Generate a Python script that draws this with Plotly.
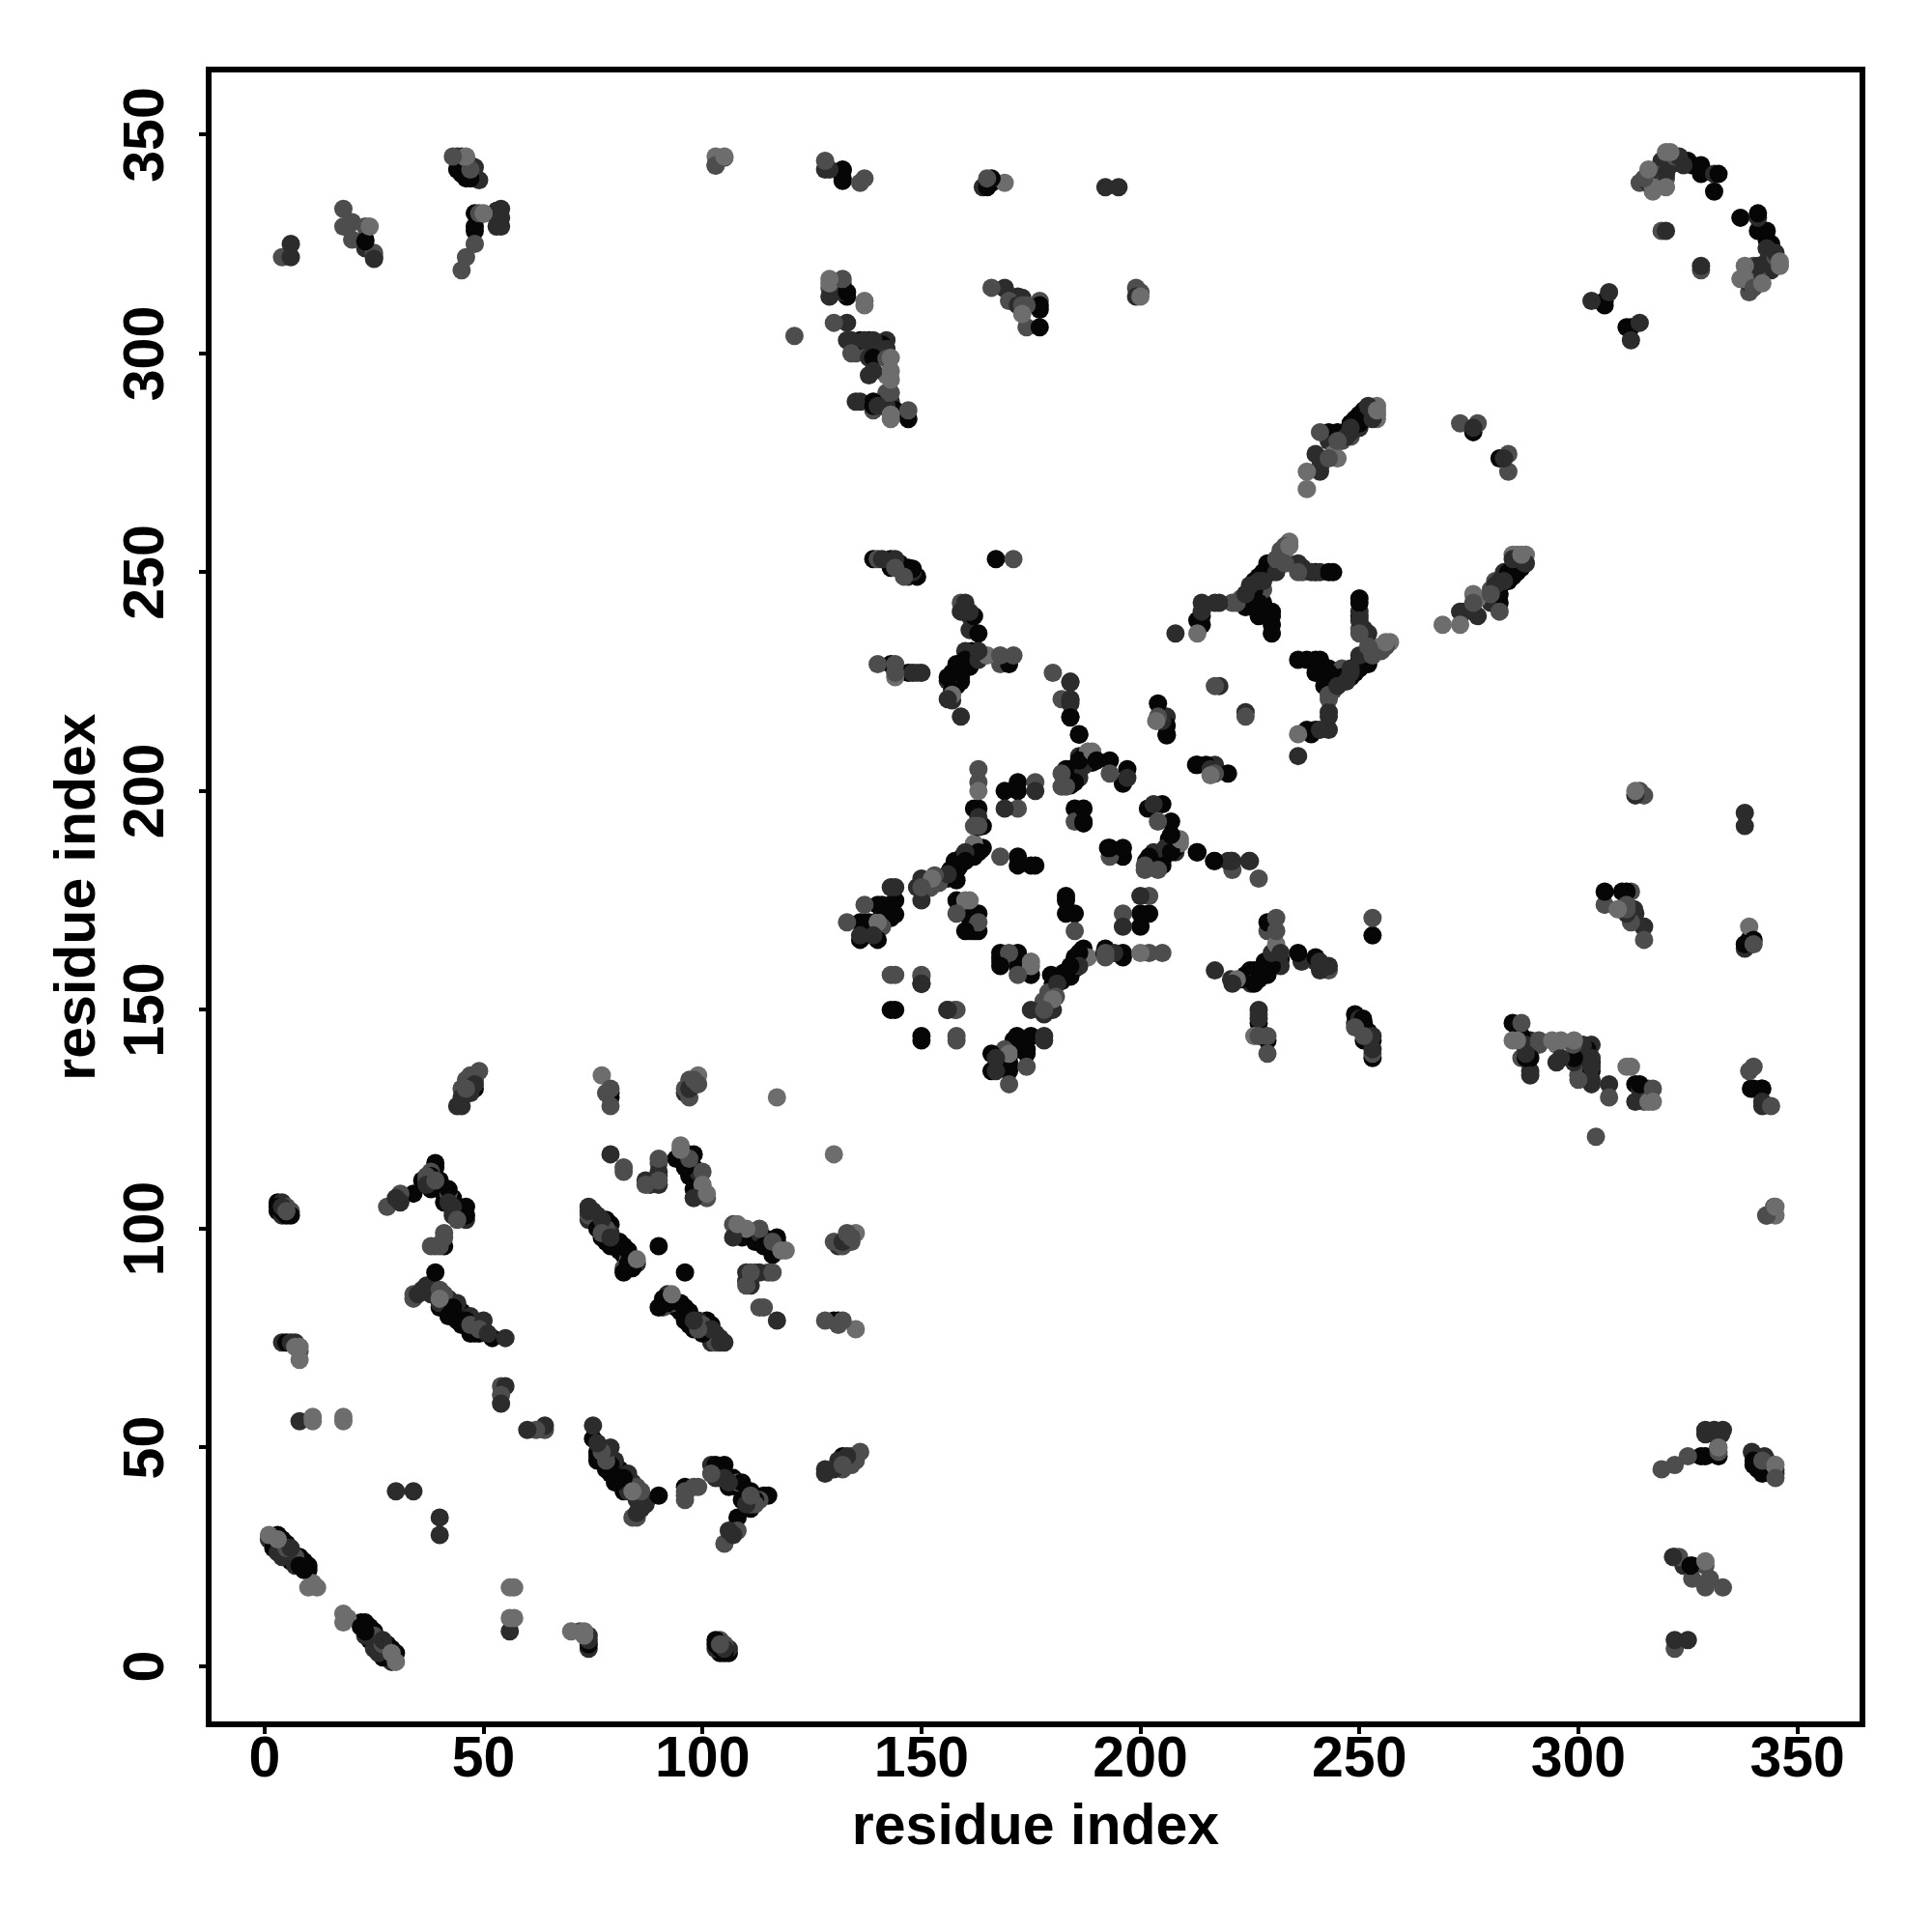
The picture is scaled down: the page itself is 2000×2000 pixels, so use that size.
import plotly.graph_objects as go

tick_values = [0, 50, 100, 150, 200, 250, 300, 350]
axis_label = "residue index"

contacts_black = [
 (3,30),(3,28),(5,28),(5,26),(6,24),(8,25),(8,23),(9,24),(9,22),(10,22),(10,23),(4,27),(4,29),(2,27),
 (3,106),(3,104),(39,114),(34,108),(38,109),(39,110),(40,109),(40,111),(42,109),(43,107),(46,103),(41,106),(41,96),
 (39,90),(38,86),(40,82),(42,80),(44,79),(46,78),(49,76),(52,75),(41,84),(43,80),(45,78),(47,76),
 (48,132),(79,130),(94,116),(96,116),(97,117),(96,114),(97,112),(98,109),
 (78,102),(79,101),(78,97),(80,96),(82,96),(83,95),(83,92),(84,93),(84,91),(90,96),
 (90,82),(94,82),(95,81),(97,81),(102,78),(96,79),(98,77),(100,76),
 (109,99),(114,98),(115,96),(117,98),(131,79),
 (103,46),(105,46),(107,43),(108,41),(110,40),(112,38),(115,39),(111,36),(108,34),(96,41),(90,39),
 (79,46),(81,45),(82,43),(133,47),(103,6),(104,4),(106,3),(105,3),(103,5),(74,5),
 (23,326),(44,344),(45,341),(46,340),(47,340),(48,328),(48,329),(48,332),(44,342),
 (132,342),(132,340),(166,340),(166,339),(133,314),(139,299),(139,289),(144,287),(147,285),(141,288),(177,310),(177,306),
 (326,343),(328,343),(328,341),(332,341),(331,337),(337,331),(341,332),(342,328),(343,328),(344,325),(306,311),(312,306),
 (243,282),(249,283),(250,284),(252,286),(253,287),(282,276),(229,252),(227,249),(226,248),(226,246),(230,250),(227,243),
 (240,250),(243,250),(213,239),(228,243),(227,241),(230,241),(230,238),(230,236),(250,244),(250,240),
 (236,230),(238,230),(240,230),(240,227),(242,224),(246,226),(250,228),(252,230),(240,214),
 (213,206),(220,204),(282,245),(282,247),(284,248),(285,249),(286,250),(287,251),
 (157,227),(159,225),(160,230),(158,224),(157,223),(156,226),(162,240),(163,236),(170,229),(167,253),(145,252),(147,250),(149,249),
 (184,217),(186,213),(183,205),(183.6,202),(184,205),(186,207),(190,207),(193,207),(197,205),(185,202),
 (204,220),(206,213),(206,215),(238,214),(212.7,206),(163,196),(164,192),(169,200),(172,202),(172,200),
 (185,196),(187,196),(187,193),(192.6,187),(196,187),(196,185),(201.7,196),(205,197),(207,193),(206.5,189),(208,187),(201.3,184),(205,183),(203.5,183),(207,186),
 (212.9,186),(216.8,184),(155,180),(156.6,182),(157.6,180),(158.7,183),(159.4,185),(163,186),(164,187),
 (172,185),(172,183),(175,183),(176,183),(136,170),(136,166),(140,174),(143,174),(143,171),(138,170),(140,166),
 (143,150),(150,144),(158,175),(160,172),(163,172),(162,168),(163,168),(183,176),(183,172),(185,172),(202,172),(200,169),
 (168,163),(172,163),(172,160),(175,158),(168,160),(186.6,163.6),(185,162),(184,160),(182.4,158.4),(184,157.6),(179.6,158),(180,156),
 (191.8,163),(196,163),(196,162),(171.8,144),(175,144),(174,141),(172,141),(167,137),(170,137),(166,136),
 (232,161.5),(228.4,161),(226,159),(224,157),(229,158),(227,159),(227,147),(229,143),(250.8,148),(251,147),(251,143),(253,143),(253,139),(253,167),
 (285,147),(287,143),(288,139),(302,141),(303,138),(303,136),(313,133),(306,177),(311,177),(340,166),(338,165),(339.4,132),(341.8,132),
 (328,48),(329,48),(332,48),(341.5,46),(343,47),(325.6,23),
]

contacts_dark = [
 (2,29),(2,28),(4,25),(6,27),(7,23),(1,29),(3,26),(4,105),(6,103),(3,105),(4,103),(4,74),(6,74),(7,74),(8,56),(30,40),(34,40),
 (30,107),(31,106),(37,110),(46,102),(42,106),(43,104),(35,85),(36,86),(37,87),(38,85),(43,82),(45,81),(47,80),(48,77),(49,78),(50,79),(48,76),(51,76),(55,75),
 (55,64),(54,60),(48,133),(44,128),(45,128),(45,130),(79,117),(87,111),(89,111),(99,113),(98,107),(96,131),
 (74,104),(74,102),(76,103),(77,102),(79,98),(81,97),(82,94),(85,92),
 (92,84),(98,79),(99,79),(101,76),(104,75),(104,74),(105,74),(103,43),(105,43),(106,31),(107,30),
 (75,55),(76,48),(80,47),(83,44),(84,42),(83,40),(87,38),(86,36),(87,37),(128,45),(128,44),(131,47),(107,98),(116,94),(110,90),(110,88),(113,90),(117,79),(132,97),(133,97),
 (106,4),(74,7),(74,6),(56,8),(6,322),(6,325),(25,322),(45,345),(47,343),(54,333),(54,331),(54,329),
 (129,342),(128,342),(164,338),(165,338),(192,338),(129,313),(132,314),(133,307),(134,303),(133,303),(137,303),(142,303),(142,301),(139,301),(139,303),(139,296),(136,289),(140,288),(143,289),(169,315),(172,313),(172,311),(199,313),
 (320,341),(321,343),(316,339),(318,342),(319,343),(320,344),(322,344),(323,345),(324,343),(331,341),(341,331),(343,326),(344,322),(345,320),(344,319),(342,318),(341,316),(339,316),(320,328),(307,314),(314,307),(312,303),
 (245,281),(247,281),(248,282),(251,285),(253,285),(250,283),(241,276),(241,273),(276,282),(283,276),(230,252),(228,250),(225,247),(224,245),(228,248),(231,250),(224,244),(236,252),(239,250),
 (214,243),(214,241),(218,243),(208,236),(250,241),(251,237),(242,226),(245,225),(248,227),(254,232),(243,217),(243,214),(236,208),(218,224),(216,205),(217,206),(274,241),(277,240),(280,243),(288,252),(283,248),
 (148,227),(150,227),(158,228),(156,221),(159,217),(160,232),(163,232),(160,243),(161,240),(163,230),(139,253),(141,253),(144,253),(148,250),
 (184,225),(184,221),(184,220),(186,208),(197,203),(206,217),(176,200),(169,196),(205.7,187),(203,186),(220.8,184),(224.8,184),(160,184),(150,180),(149,178),(150,175),
 (143,178),(139,167),(136,167),(150,156),(155.9,150),(160,168),(196,169),(168,161),(186,160),(181,156),(180,150),(175,150),(194,163),(178,144),(167,139),(167,136),
 (217,159),(220.7,157),(225.2,156),(236.8,161),(240.9,161),(241,159),(227,150),(249,149),(249,147),(288,142),(289,135),(295,138),(299,138),(303,134),(307,133),(313,129),(312.7,173),(314.8,169),(338,164),(342,128),
 (313,199),(338,195),(338,192),(329,53),(331,53),(332.6,53),(339.6,49),(340,48),(342.5,48),(345,44),(321.6,25),(324,23),(322,6),(325,6),
]

contacts_mid = [
 (5,27),(7,25),(5,104),(6,104),(5,74),(28,105),(31,108),(37,111),(43,105),(43,103),(44,102),(39,96),(41,98),
 (34,84),(40,85),(54,64),(54,62),(47,135),(46,131),(46,132),(47,133),(48,134),(78,131),(79,132),(79,128),(82,114),(90,111),(90,113),(90,115),(90,116),
 (100,113),(99,108),(77,99),(93,83),(91,82),(100,78),(103,74),(107,101),(113,100),(116,97),(110,87),(115,90),(112,90),(113,82),(128,79),(131,78),(130,97),(134,98),(133,99),
 (97,134),(96,132),(97,130),(106,43),(108,42),(111,39),(113,38),(112,37),(108,31),(105,28),(96,40),(96,38),(99,41),
 (77,49),(78,47),(85,41),(86,40),(85,34),(84,34),(132,46),(132,45),(134,46),(135,48),(136,49),(104,6),(105,5),(72,8),
 (4,322),(20,330),(20,326),(25,323),(43,345),(48,340),(47,342),(45,319),(48,325),(49,332),
 (128,344),(137,340),(165,340),(195,338),(103,343),(132,317),(130,307),(121,304),(135,300),(143,291),(139,287),(147,287),(166,315),(170,312),(174,311),(177,312),(174,306),
 (322,345),(319,341),(318,339),(314,339),(320,340),(340,315),(343,319),(344,321),(328,319),(303,312),
 (241,282),(245,280),(246,280),(248,281),(243,276),(273,284),(277,284),(284,277),(284,273),(232,255),(231,253),(233,252),(233,256),(228,246),(236,250),(222,243),(250,237),
 (244,223),(243,221),(217,224),(217,204),(282,241),(280,245),(287,253),(286,252),
 (140,229),(149,227),(168,231),(171,231),(171,253),(146,249),(182,221),(180,227),(182,204),(183,201),(163,205),(163,202),(163,192),(176,202),(172,196),(185,193),(193,185),(204,193),(203,197),(201,182),(204,182),(221,182),
 (150,158),(143,158),(157.6,150),(158,144),(133,170),(151.3,178),(154,179),(168,185),(158,172),(161,168),(163,170),(185,168),(196,172),(200,176),(202,176),(200,172),(172,158),(192,162),(202,163),(205,163),
 (180.7,153),(177.9,152),(178,150),(169,141),(174,137),(170,133),
 (231,171),(229,168),(227,148),(229,144),(227,144),(229,140),(251,144),(253,140),(287,147),(287,139),(291,142),(298.8,142),(300,134),(307,130),(304,121),(316,132),(315,129),(312,177),(311,173),(312,170),(315,166),(340,165),(339,136),(344,128),
 (314,200),(315,199),(342.9,103),(344.7,105),(331.9,50),(325,48),(322,46),(319,45),(345,43),(323,25),(329,23),(326,20),(330,20),(329,18),(333,18),(322,4),(243,159),
]

contacts_light = [
 (1,30),(3,29),(10,18),(12,18),(11,19),(7,73),(8,72),(8,70),(11,56),(11,57),(18,56),(18,57),(40,84),(49,77),(49,136),
 (77,135),(95,119),(100,110),(101,108),(85,93),(110,100),(118,95),(132,79),(135,77),(117,130),(135,99),(99,135),(70,8),(73,8),(56,18),(57,18),(56,11),(57,11),
 (18,333),(18,329),(24,329),(46,345),(46,322),(50,332),(169,339),(103,345),(105,345),(129,317),(129,315),(137,312),(143,299),(143,296),(143,294),(143,286),(173,309),(199,315),(200,313),
 (321,346),(316,341),(317,337),(320,338),(346,320),(338,317),(342,316),
 (254,288),(254,286),(254,287),(245,276),(238,273),(238,269),(234,257),(236,213),(213,236),(255,233),(256,234),(253,233),
 (269,238),(273,238),(277,244),(288,254),(285,254),(144,229),(144,226),(188,209),(203.6,216),(209,189),(227,180),(143,158),(137,174),(152.4,180),(162,188),(140,170),(160,175),(175,161),(188,162),(179.6,152),(200,163),(222,157),
 (231,165),(285,143),(295,142),(311,137),(316,129),(306,174),(253,171),(339,169),(345,103),(344.7,46),
]

GRAY_BLACK, GRAY_DARK, GRAY_MID, GRAY_LIGHT = "#060606", "#2c2c2c", "#4d4d4d", "#6d6d6d"
stack_bias = {GRAY_BLACK: 0, GRAY_DARK: 6, GRAY_MID: 10, GRAY_LIGHT: 14}

seen = {}
for lst, col in [(contacts_black, GRAY_BLACK), (contacts_dark, GRAY_DARK),
                 (contacts_mid, GRAY_MID), (contacts_light, GRAY_LIGHT)]:
    for a, b in lst:
        key = (min(a, b), max(a, b))
        seen.setdefault(key, col)

# both triangles of the symmetric map; paler points tend to stack above darker ones
items = sorted(seen.items(),
               key=lambda kv: (int(kv[0][0] * 37 + kv[0][1] * 11)) % 29 + stack_bias[kv[1]])
xs = [k[0] for k, _ in items] + [k[1] for k, _ in items]
ys = [k[1] for k, _ in items] + [k[0] for k, _ in items]
cs = [c for _, c in items] * 2

fig = go.Figure(go.Scatter(x=xs, y=ys, mode="markers",
                           marker=dict(size=19, color=cs, line=dict(width=0)),
                           cliponaxis=True, showlegend=False, hoverinfo="skip"))

font = dict(family="Liberation Sans, Arial, sans-serif", size=59, color="black", weight="bold")
axis = dict(showgrid=False, zeroline=False, showline=True, linecolor="black", linewidth=6, mirror=True,
            ticks="outside", ticklen=7, tickwidth=4, tickcolor="black",
            tickmode="array", tickvals=tick_values, ticktext=[str(v) for v in tick_values],
            tickfont=font, automargin=False)

fig.update_layout(
    width=2000, height=2000, paper_bgcolor="white", plot_bgcolor="white",
    margin=dict(l=219, r=75, t=75, b=218, pad=0),
    xaxis=dict(axis, range=[-12.1, 364.2], ticklabelstandoff=-27,
               title=dict(text=axis_label, font=font, standoff=19)),
    yaxis=dict(axis, range=[-12.6, 364.2], tickangle=-90, ticklabelstandoff=13, ticklabelshift=9,
               title=dict(text=axis_label, font=font, standoff=1)),
)

fig.write_html("out.html", config={"displayModeBar": False},
               post_script="document.body.style.margin='0';")
